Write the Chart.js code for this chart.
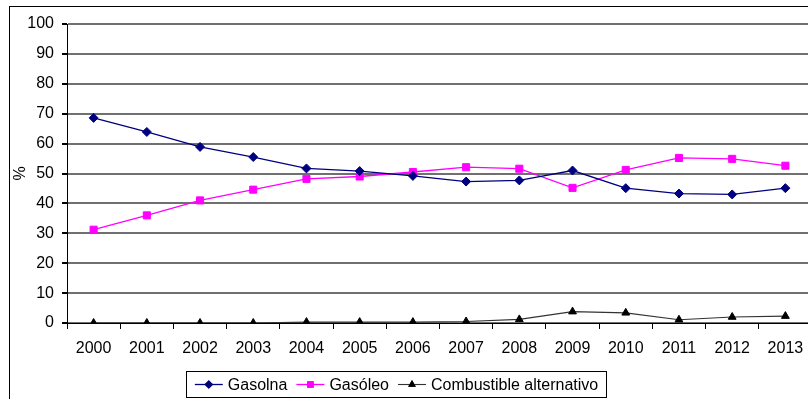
<!DOCTYPE html>
<html>
<head>
<meta charset="utf-8">
<script src="https://cdn.jsdelivr.net/npm/chart.js@4/dist/chart.umd.min.js"></script>
<style>
  html, body { margin: 0; padding: 0; background: #fff; overflow: hidden; }
  #wrap { position: absolute; left: 0; top: 0; width: 830px; height: 399px; }
</style>
</head>
<body>
<div id="wrap"><canvas id="c"></canvas></div>
<script>
// Fuel share of new cars, %
const years = ['2000','2001','2002','2003','2004','2005','2006','2007','2008','2009','2010','2011','2012','2013'];
const gasolina = [68.6, 63.9, 58.9, 55.5, 51.7, 50.8, 49.2, 47.3, 47.7, 51.0, 45.1, 43.3, 43.0, 45.1];
const gasoleo  = [31.2, 36.0, 41.0, 44.6, 48.2, 49.0, 50.5, 52.1, 51.6, 45.2, 51.2, 55.2, 54.9, 52.6];
const alternativo = [0.0, 0.0, 0.0, 0.0, 0.3, 0.3, 0.3, 0.5, 1.2, 3.8, 3.4, 1.1, 2.0, 2.3];
const seriesNames = ['Gasolna', 'Gasóleo', 'Combustible alternativo'];
const yTicks = [0, 10, 20, 30, 40, 50, 60, 70, 80, 90, 100];

const FONT = "'Liberation Sans', Arial, sans-serif";

// Outer frame of the chart object
const framePlugin = {
  id: 'frame',
  afterDraw(chart) {
    const ctx = chart.ctx;
    ctx.save();
    ctx.strokeStyle = '#000';
    ctx.lineWidth = 1;
    ctx.strokeRect(9.5, 6.5, 1000, 1000);
    ctx.restore();
  }
};

// Boxed legend below the category axis
const boxLegend = {
  id: 'boxLegend',
  afterDraw(chart) {
    const ctx = chart.ctx;
    const box = { x: 186.5, y: 371.5, w: 420, h: 26 };
    ctx.save();
    ctx.fillStyle = '#fff';
    ctx.fillRect(box.x, box.y, box.w, box.h);
    ctx.strokeStyle = '#000';
    ctx.lineWidth = 1;
    ctx.strokeRect(box.x, box.y, box.w, box.h);
    ctx.font = '16px ' + FONT;
    ctx.textBaseline = 'middle';
    const sample = 28, gap = 5, itemGap = 9;
    const items = chart.data.datasets.map(ds => ({ ds, w: ctx.measureText(ds.label).width }));
    let total = items.reduce((s, it) => s + sample + gap + it.w, 0) + itemGap * (items.length - 1);
    let x = box.x + (box.w - total) / 2;
    const cy = box.y + box.h / 2;
    items.forEach(it => {
      const ds = it.ds;
      ctx.strokeStyle = ds.borderColor;
      ctx.lineWidth = ds.borderWidth;
      ctx.beginPath();
      ctx.moveTo(x, cy);
      ctx.lineTo(x + sample, cy);
      ctx.stroke();
      Chart.helpers.drawPoint(ctx, {
        pointStyle: ds.pointStyle, radius: ds.pointRadius * 0.75, borderWidth: 1, rotation: 0
      }, x + sample / 2, cy);
      ctx.fillStyle = ds.pointBackgroundColor;
      ctx.strokeStyle = ds.pointBorderColor;
      ctx.fill();
      ctx.stroke();
      ctx.fillStyle = '#000';
      ctx.textAlign = 'left';
      ctx.fillText(ds.label, x + sample + gap, cy + 1);
      x += sample + gap + it.w + itemGap;
    });
    ctx.restore();
  }
};

new Chart(document.getElementById('c'), {
  type: 'line',
  data: {
    labels: years,
    datasets: [
      {
        label: seriesNames[0], data: gasolina,
        borderColor: '#000080', borderWidth: 1.3,
        pointStyle: 'rectRot', pointRadius: 4.5,
        pointBackgroundColor: '#000080', pointBorderColor: '#000080', pointBorderWidth: 1
      },
      {
        label: seriesNames[1], data: gasoleo,
        borderColor: '#ff00ff', borderWidth: 1.3,
        pointStyle: 'rect', pointRadius: 5,
        pointBackgroundColor: '#ff00ff', pointBorderColor: '#ff00ff', pointBorderWidth: 1
      },
      {
        label: seriesNames[2], data: alternativo,
        borderColor: '#333333', borderWidth: 1.1,
        pointStyle: 'triangle', pointRadius: 4.5,
        pointBackgroundColor: '#000', pointBorderColor: '#000', pointBorderWidth: 1
      }
    ]
  },
  options: {
    responsive: true,
    maintainAspectRatio: false,
    devicePixelRatio: 1,
    animation: false,
    layout: { padding: { left: 0, top: 24, right: 18, bottom: 0 } },
    plugins: { legend: { display: false }, tooltip: { enabled: false } },
    elements: { line: { tension: 0 } },
    scales: {
      x: {
        offset: true,
        grid: { offset: true, drawOnChartArea: false, drawTicks: true, tickLength: 6, tickColor: '#000', lineWidth: 1 },
        border: { color: '#000', width: 1 },
        ticks: { color: '#000', font: { family: FONT, size: 16 }, padding: 10, maxRotation: 0, autoSkip: false },
        afterFit(scale) { scale.height = 76; }
      },
      y: {
        min: 0, max: 100,
        afterBuildTicks(scale) { scale.ticks = yTicks.map(v => ({ value: v })); },
        grid: { color: '#707070', lineWidth: 2, drawTicks: true, tickLength: 5, tickColor: '#000' },
        border: { color: '#000', width: 1 },
        ticks: { color: '#000', font: { family: FONT, size: 16 }, padding: 8 },
        title: { display: true, text: '%', color: '#000', font: { family: FONT, size: 16 }, padding: { top: 11, bottom: 0 } },
        afterFit(scale) { scale.width = 67; }
      }
    }
  },
  plugins: [framePlugin, boxLegend]
});
</script>
</body>
</html>
